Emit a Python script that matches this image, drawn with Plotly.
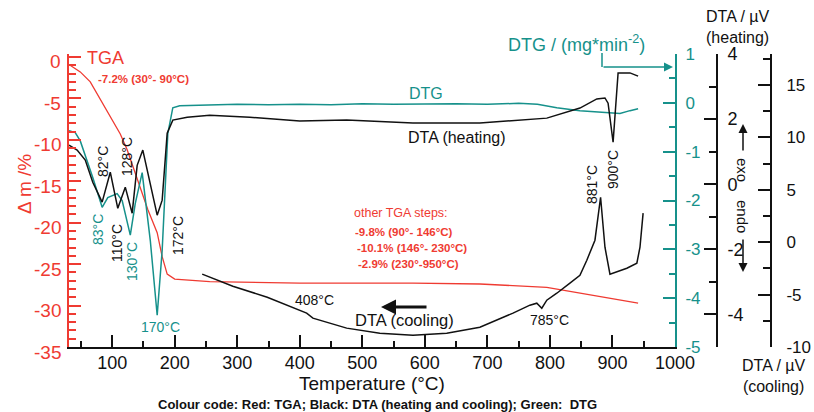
import plotly.graph_objects as go

# ---------------- data ----------------
temp_tga = [31, 49, 65, 81, 97, 113, 124, 133, 145, 157, 172, 180, 188, 200, 256, 400, 581, 688, 795, 848, 901, 941]
tga = [-0.9, -1.8, -3.0, -5.1, -7.2, -9.3, -11.2, -13.2, -15.6, -18.4, -21.2, -24.1, -26.2, -26.8, -27.1, -27.3,
       -27.3, -27.4, -27.8, -28.5, -29.2, -29.7]

temp_dtg = [31, 41, 49, 60, 69, 84, 93, 108, 116, 129, 137, 148, 161, 172, 180, 189, 197, 208,
            250, 300, 350, 400, 450, 500, 550, 600, 650, 700, 750, 780, 811, 848, 901, 912, 928, 941]
dtg = [-0.57, -0.61, -0.78, -1.18, -1.53, -2.14, -1.94, -1.86, -2.0, -2.71, -2.06, -1.43, -2.82, -4.35, -3.02,
       -0.63, -0.10, -0.06,
       -0.05, -0.03, -0.04, -0.03, -0.04, -0.02, -0.03, -0.02, -0.02, -0.03, -0.01, -0.03, -0.10, -0.16,
       -0.22, -0.22, -0.16, -0.12]

temp_dta_heat = [31, 44, 57, 69, 84, 97, 109, 121, 132, 140, 149, 157, 172, 180, 188, 197, 220, 256, 320, 400,
                 475, 581, 688, 795, 821, 848, 875, 888, 893, 901, 909, 928, 941]
dta_heat = [1.2, 1.05, 0.74, 0.06, -0.55, 0.37, -0.74, -0.09, -0.89, 0.58, 1.05, 0.37, -0.95, -0.49, 1.57, 1.97,
            2.06, 2.12, 2.06, 1.94, 1.97, 1.88, 1.88, 2.03, 2.18, 2.34, 2.62, 2.65, 2.49, 1.29, 3.42, 3.42, 3.32]

temp_dta_cool = [244, 293, 348, 400, 411, 421, 475, 528, 581, 635, 688, 741, 768, 779, 787, 795, 811, 832, 848,
                 859, 872, 881, 888, 896, 923, 939, 944, 949]
dta_cool = [-3.05, -4.2, -5.25, -6.49, -6.77, -7.25, -8.2, -8.68, -8.87, -8.68, -8.11, -6.77, -6.01, -5.82, -6.3,
            -5.53, -4.87, -3.91, -3.15, -1.72, 0.19, 4.29, -0.48, -3.05, -2.48, -2.0, -0.48, 2.77]

x_ticks = [100, 200, 300, 400, 500, 600, 700, 800, 900, 1000]
tga_ticks = [0, -5, -10, -15, -20, -25, -30, -35]
dtg_ticks = [1, 0, -1, -2, -3, -4, -5]
heat_ticks = [4, 2, 0, -2, -4]
cool_ticks = [15, 10, 5, 0, -5, -10]

# ---------------- style ----------------
RED = "#ef3b32"
TEAL = "#16918b"
BLACK = "#111111"
FONT = "Arial, Liberation Sans, sans-serif"

W, H = 814, 412
L, R, T, B = 69, 771, 54, 347  # plotting region in pixels


def px(x):
    return (x - L) / (R - L)


def py(y):
    return (B - y) / (B - T)


def lab(v):
    return str(v)  # plain hyphen minus, as in the reference


fig = go.Figure()
fig.add_trace(go.Scatter(x=temp_tga, y=tga, mode="lines", line=dict(color=RED, width=1.3),
                         yaxis="y", showlegend=False, hoverinfo="skip"))
fig.add_trace(go.Scatter(x=temp_dtg, y=dtg, mode="lines", line=dict(color=TEAL, width=1.5),
                         yaxis="y2", showlegend=False, hoverinfo="skip"))
fig.add_trace(go.Scatter(x=temp_dta_heat, y=dta_heat, mode="lines", line=dict(color=BLACK, width=1.5),
                         yaxis="y3", showlegend=False, hoverinfo="skip"))
fig.add_trace(go.Scatter(x=temp_dta_cool, y=dta_cool, mode="lines", line=dict(color=BLACK, width=1.5),
                         yaxis="y4", showlegend=False, hoverinfo="skip"))

xdom_end = px(675)

fig.update_layout(
    width=W, height=H,
    margin=dict(l=L, r=W - R, t=T, b=H - B, autoexpand=False),
    paper_bgcolor="white", plot_bgcolor="white",
    font=dict(family=FONT, color=BLACK),
    showlegend=False,
    xaxis=dict(domain=[0, xdom_end], range=[31, 1000], tickmode="array", tickvals=x_ticks,
               ticks="inside", ticklen=12, tickwidth=2, tickcolor=BLACK, automargin=False,
               showline=True, linecolor=BLACK, linewidth=2, showgrid=False, zeroline=False,
               tickfont=dict(size=18, color=BLACK), ticklabelstandoff=-2,
               minor=dict(dtick=50, tick0=0, ticks="inside", ticklen=6, tickwidth=2, tickcolor=BLACK)),
    yaxis=dict(range=[-35, 0.36], tickmode="array", tickvals=tga_ticks, showticklabels=False,
               ticks="inside", ticklen=12, tickwidth=2, tickcolor=RED,
               showline=True, linecolor=RED, linewidth=2, showgrid=False, zeroline=False, automargin=False,
               minor=dict(dtick=1, tick0=0, ticks="inside", ticklen=7, tickwidth=2, tickcolor=RED)),
    yaxis2=dict(overlaying="y", side="right", anchor="x", range=[-5, 1.0], tickmode="array",
                tickvals=dtg_ticks, ticktext=[lab(v) for v in dtg_ticks],
                ticks="inside", ticklen=12, tickwidth=2, tickcolor=TEAL, automargin=False,
                showline=True, linecolor=TEAL, linewidth=2, showgrid=False, zeroline=False,
                tickfont=dict(size=17, color=TEAL), ticklabelstandoff=5,
                minor=dict(dtick=0.5, tick0=0, ticks="inside", ticklen=6, tickwidth=2, tickcolor=TEAL)),
    yaxis3=dict(overlaying="y", side="right", anchor="free", position=px(717), range=[-5, 4], tickmode="array",
                tickvals=heat_ticks, ticktext=[lab(v) for v in heat_ticks],
                ticks="inside", ticklen=12, tickwidth=2, tickcolor=BLACK, automargin=False,
                showline=True, linecolor=BLACK, linewidth=2, showgrid=False, zeroline=False,
                tickfont=dict(size=18, color=BLACK), ticklabelstandoff=6,
                minor=dict(dtick=1, tick0=0, ticks="inside", ticklen=7, tickwidth=2, tickcolor=BLACK)),
    yaxis4=dict(overlaying="y", side="right", anchor="free", position=1.0, range=[-10, 17.96], tickmode="array",
                tickvals=cool_ticks, ticktext=[lab(v) for v in cool_ticks],
                ticks="inside", ticklen=12, tickwidth=2, tickcolor=BLACK, automargin=False,
                showline=True, linecolor=BLACK, linewidth=2, showgrid=False, zeroline=False,
                tickfont=dict(size=17, color=BLACK), ticklabelstandoff=11,
                minor=dict(dtick=2.5, tick0=0, ticks="inside", ticklen=7, tickwidth=2, tickcolor=BLACK)),
)

ann = []

# TGA tick labels (drawn slightly below their ticks, as in the reference)
for v in tga_ticks:
    ann.append(dict(x=0, y=v, xref="paper", yref="y", text=lab(v), showarrow=False, xanchor="right",
                    yanchor="middle", xshift=-6, yshift=-5, font=dict(size=19, color=RED, family=FONT)))


def text(x, y, s, size=14, color=BLACK, angle=0, bold=False, xanchor="center"):
    if bold:
        s = "<b>" + s + "</b>"
    ann.append(dict(x=px(x), y=py(y), xref="paper", yref="paper", text=s, showarrow=False,
                    font=dict(size=size, color=color, family=FONT), textangle=angle,
                    xanchor=xanchor, yanchor="middle"))


# axis titles
text(24, 184, "Δ m /%", size=19, color=RED, angle=-90)
text(372, 383, "Temperature (°C)", size=19)
text(576, 43, "DTG / (mg*min<sup>-2</sup>)", size=18, color=TEAL)
text(737, 27, "DTA / µV<br>(heating)", size=16)
text(773, 376, "DTA / µV<br>(cooling)", size=16)
text(377, 404, "Colour code: Red: TGA; Black: DTA (heating and cooling); Green:  DTG", size=13, bold=True)

# red TGA notes
text(85, 58, "TGA", size=18, color=RED, xanchor="left")
text(96, 79, "-7.2% (30°- 90°C)", size=11.5, color=RED, bold=True, xanchor="left")
text(352, 213, "other TGA steps:", size=12.5, color=RED, xanchor="left")
text(353, 232, "-9.8% (90°- 146°C)", size=11.5, color=RED, bold=True, xanchor="left")
text(355, 248, "-10.1% (146°- 230°C)", size=11.5, color=RED, bold=True, xanchor="left")
text(356, 264, "-2.9% (230°-950°C)", size=11.5, color=RED, bold=True, xanchor="left")

# curve labels
text(426, 93, "DTG", size=16, color=TEAL)
text(457, 137, "DTA (heating)", size=16)
text(404, 320, "DTA (cooling)", size=16.5)

# peak labels
text(103, 162, "82°C", size=14, angle=-90)
text(127, 157, "128°C", size=14, angle=-90)
text(98, 230, "83°C", size=14, color=TEAL, angle=-90)
text(117, 243, "110°C", size=14, angle=-90)
text(132, 262, "130°C", size=14, color=TEAL, angle=-90)
text(178, 236, "172°C", size=14, angle=-90)
text(160, 327, "170°C", size=14, color=TEAL)
text(314, 300, "408°C", size=14)
text(549, 320, "785°C", size=14)
text(592, 185, "881°C", size=14, angle=-90)
text(613, 170, "900°C", size=14, angle=-90)

# exo / endo
text(743, 170, "exo", size=15, angle=90)
text(743, 216, "endo", size=15, angle=90)


def arrow(x0, y0, x1, y1, color=BLACK, width=1.5, size=1.0, head=2):
    ann.append(dict(x=px(x1), y=py(y1), xref="paper", yref="paper", ax=x0 - x1, ay=y0 - y1,
                    axref="pixel", ayref="pixel", showarrow=True, arrowhead=head, arrowsize=size,
                    arrowwidth=width, arrowcolor=color, text=""))


arrow(743, 152, 743, 124, size=1.2, width=1.5)
arrow(743, 238, 743, 272, size=1.2, width=1.5)
arrow(428, 307, 381, 307, size=1.0, width=3, head=2)
arrow(602, 67, 673, 67, color=TEAL, size=1.2, width=1.5)

fig.update_layout(annotations=ann)
fig.add_shape(type="line", xref="paper", yref="paper", x0=px(602), x1=px(602), y0=py(53), y1=py(67),
              line=dict(color=TEAL, width=1.5))

fig.write_html("out.html")
